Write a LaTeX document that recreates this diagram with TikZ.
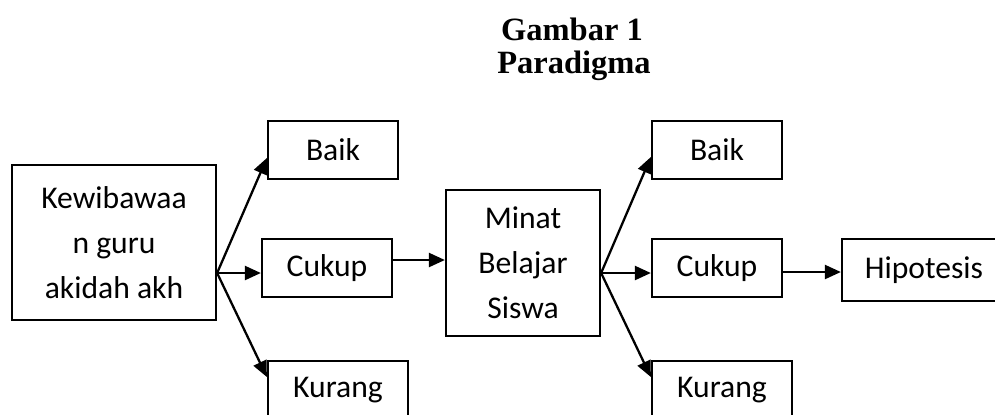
\documentclass[tikz,border=0pt]{standalone}
\usepackage{fontspec}
\setmainfont{Carlito}
\newfontfamily\titlefont{Liberation Serif}
\usepackage{tikz}
\usetikzlibrary{positioning,arrows.meta}

\begin{document}
\begin{tikzpicture}[x=0.02cm,y=-0.02cm,
          bx/.style={draw=black,line width=1.3pt,align=center,inner sep=2pt,
                     minimum height=1.16cm,font=\fontsize{18}{25.6}\selectfont},
          ar/.style={line width=1.3pt,-{Triangle[length=0.32cm,width=0.28cm]}},
          ttl/.style={font=\titlefont\bfseries\fontsize{18.5}{24}\selectfont,anchor=base}]
        \useasboundingbox (0,0) rectangle (995,414);
        \clip (0,0) rectangle (995,414);
        % judul
        \node[ttl] (gbr) at (572,40) {Gambar 1};
        \node[ttl] (par) at (574,73) {Paradigma};
        % variabel X
        \node[bx,minimum width=4.08cm,minimum height=3.1cm] (kew) at (114,242.5)
              {Kewibawaa\\n guru\\akidah akh};
        \node[bx,minimum width=2.6cm] (baikA)   at (333,150) {Baik};
        \node[bx,minimum width=2.6cm] (cukupA)  at (327,268) {Cukup};
        \node[bx,minimum width=2.8cm] (kurangA) at (338,390) {Kurang};
        % variabel Y
        \node[bx,minimum width=3.08cm,minimum height=2.92cm] (minat) at (523,263)
              {Minat\\Belajar\\Siswa};
        \node[bx,minimum width=2.6cm] (baikB)   at (717,150) {Baik};
        \node[bx,minimum width=2.6cm] (cukupB)  at (717,268) {Cukup};
        \node[bx,minimum width=2.8cm] (kurangB) at (722,390) {Kurang};
        \node[bx,minimum width=3.28cm,minimum height=1.24cm] (hip) at (924,270) {Hipotesis};
        % titik cabang
        \coordinate (kewout) at ([yshift=-0.61cm]kew.east);
        \coordinate (minout) at ([yshift=-0.2cm]minat.east);
        \draw[ar] (kewout) -- ([yshift=-0.16cm]baikA.west);
        \draw[ar] (kewout) -- (kewout -| cukupA.west);
        \draw[ar] (kewout) -- ([yshift=0.26cm]kurangA.west);
        \draw[ar] ([yshift=0.16cm]cukupA.east) -- ([yshift=0.16cm]cukupA.east -| minat.west);
        \draw[ar] (minout) -- ([yshift=-0.14cm]baikB.west);
        \draw[ar] (minout) -- (minout -| cukupB.west);
        \draw[ar] (minout) -- ([yshift=0.26cm]kurangB.west);
        \draw[ar] ([yshift=-0.08cm]cukupB.east) -- ([yshift=-0.08cm]cukupB.east -| hip.west);
\end{tikzpicture}
\end{document}
